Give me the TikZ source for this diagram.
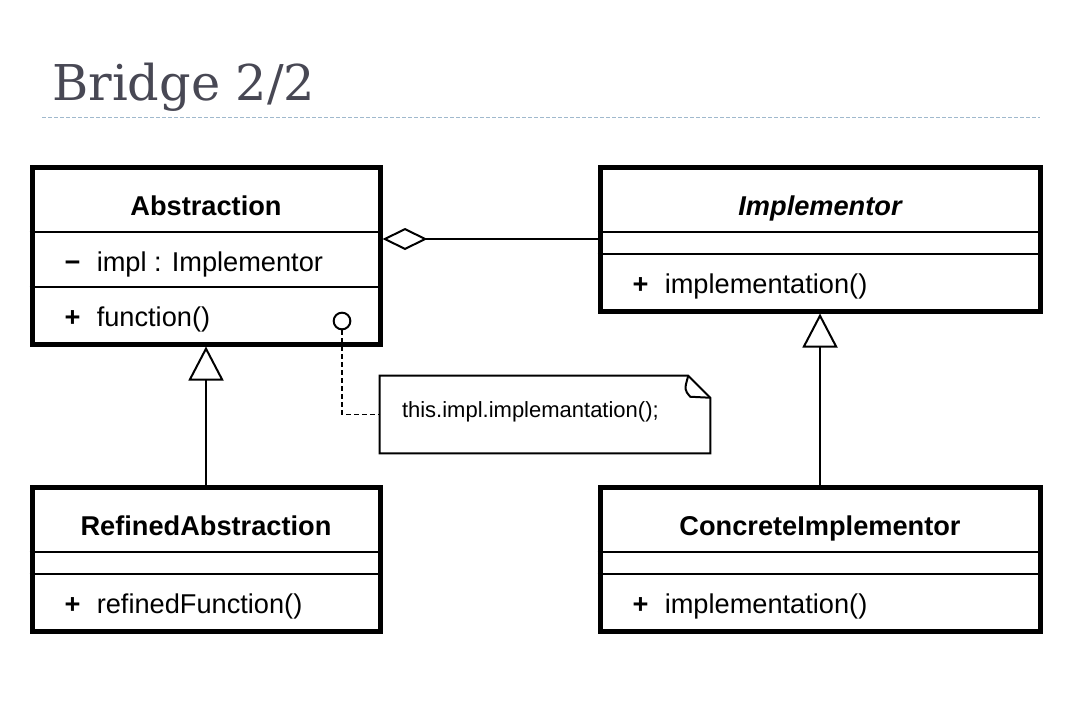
\documentclass[tikz,border=0pt]{standalone}
\usepackage{fontspec}
\setmainfont{Liberation Sans}
\newfontfamily\titlefont{DejaVu Serif}
\usepackage{xcolor}
\definecolor{title-text}{RGB}{72,72,84}
\definecolor{rule-blue}{RGB}{160,185,205}
\usetikzlibrary{arrows.meta,positioning}

\begin{document}
\begin{tikzpicture}[
    x=0.75pt, y=-0.75pt,
    every node/.style={inner sep=0pt},
    umlclass/.style={draw, line width=3.75pt, fill=white},
    compartment/.style={line width=1.5pt},
    classname/.style={font=\bfseries\fontsize{20.4}{24}\selectfont, anchor=base},
    member/.style={font=\fontsize{20.4}{24}\selectfont, anchor=base west},
    visibility/.style={font=\bfseries\fontsize{20.4}{24}\selectfont, anchor=base},
    aggregation/.style={line width=1.5pt, {Diamond[open,length=33.75pt,width=16.5pt]}-},
    inherit/.style={line width=1.5pt, -{Triangle[open,length=25.5pt,width=26.25pt]}},
    noteline/.style={line width=1.1pt, dash pattern=on 3.75pt off 2.25pt}
]
\useasboundingbox (0,0) rectangle (1077,704);

% Slide title and rule
\node[font=\titlefont\fontsize{37}{41}\selectfont, text=title-text, anchor=base west]
    (title) at (52,100) {Bridge 2/2};
\draw[rule-blue, line width=0.75pt, dash pattern=on 3pt off 1.5pt] (42,117) -- (1040,117);

% Abstraction
\node[umlclass, minimum width=261pt, minimum height=132.75pt] (abs) at (206,255.5) {};
\draw[compartment] ([shift={(0,67.5)}]abs.north west) -- ([shift={(0,67.5)}]abs.north east);
\draw[compartment] ([shift={(0,122.5)}]abs.north west) -- ([shift={(0,122.5)}]abs.north east);
\node[classname] (abs-name) at ([shift={(0,51)}]abs.north) {Abstraction};
\node[visibility] (abs-attr-vis) at ([shift={(43,106.5)}]abs.north west) {−};
\node[member] (abs-attr) at ([shift={(67,106.5)}]abs.north west) {impl : Implementor};
\node[visibility] (abs-op-vis) at ([shift={(43,161.5)}]abs.north west) {+};
\node[member] (abs-op) at ([shift={(67,161.5)}]abs.north west) {function()};

% Implementor
\node[umlclass, minimum width=330pt, minimum height=108pt] (impl) at (820,239) {};
\draw[compartment] ([shift={(0,67.5)}]impl.north west) -- ([shift={(0,67.5)}]impl.north east);
\draw[compartment] ([shift={(0,89.5)}]impl.north west) -- ([shift={(0,89.5)}]impl.north east);
\node[classname, font=\bfseries\itshape\fontsize{20.4}{24}\selectfont]
    (impl-name) at ([shift={(0,51)}]impl.north) {Implementor};
\node[visibility] (impl-op-vis) at ([shift={(43,129)}]impl.north west) {+};
\node[member] (impl-op) at ([shift={(67,129)}]impl.north west) {implementation()};

% RefinedAbstraction
\node[umlclass, minimum width=261pt, minimum height=108pt] (refined) at (206,559) {};
\draw[compartment] ([shift={(0,67.5)}]refined.north west) -- ([shift={(0,67.5)}]refined.north east);
\draw[compartment] ([shift={(0,89.5)}]refined.north west) -- ([shift={(0,89.5)}]refined.north east);
\node[classname] (refined-name) at ([shift={(0,50.5)}]refined.north) {RefinedAbstraction};
\node[visibility] (refined-op-vis) at ([shift={(43,129)}]refined.north west) {+};
\node[member] (refined-op) at ([shift={(67,129)}]refined.north west) {refinedFunction()};

% ConcreteImplementor
\node[umlclass, minimum width=330pt, minimum height=108pt] (concrete) at (820,559) {};
\draw[compartment] ([shift={(0,67.5)}]concrete.north west) -- ([shift={(0,67.5)}]concrete.north east);
\draw[compartment] ([shift={(0,89.5)}]concrete.north west) -- ([shift={(0,89.5)}]concrete.north east);
\node[classname] (concrete-name) at ([shift={(0,50.5)}]concrete.north) {ConcreteImplementor};
\node[visibility] (concrete-op-vis) at ([shift={(43,129)}]concrete.north west) {+};
\node[member] (concrete-op) at ([shift={(67,129)}]concrete.north west) {implementation()};

% Relations
\draw[aggregation] (impl.west -| abs.east) -- (impl.west);
\draw[inherit] (refined.north) -- (abs.south);
\draw[inherit] (concrete.north) -- (impl.south);

% Note attached to function()
\node[minimum width=247.5pt, minimum height=57.75pt] (note) at (545,414.5) {};
\draw[line width=1.5pt, fill=white]
    (note.north west) -- ([shift={(-22,0)}]note.north east)
    -- ([shift={(0,22)}]note.north east) -- (note.south east)
    -- (note.south west) -- cycle;
\draw[line width=1.5pt]
    ([shift={(-22,0)}]note.north east) .. controls ([shift={(-26,14)}]note.north east)
    .. ([shift={(-20,21)}]note.north east) -- ([shift={(0,22)}]note.north east);
\node[font=\fontsize{16.5}{20}\selectfont, anchor=base west]
    (note-text) at ([shift={(22,42)}]note.north west) {this.impl.implemantation();};

\node[circle, draw, line width=1.5pt, fill=white, minimum size=12.5pt] (hook) at (342,321) {};
\draw[noteline] (hook.south) |- (note.west);

\end{tikzpicture}
\end{document}
